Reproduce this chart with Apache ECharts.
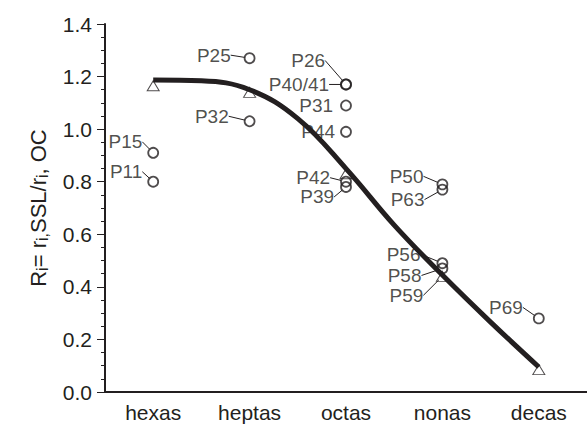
<!DOCTYPE html>
<html>
<head>
<meta charset="utf-8">
<script src="https://cdn.jsdelivr.net/npm/echarts@6/dist/echarts.min.js"></script>
<style>
  html, body { margin: 0; padding: 0; background: #fff; }
  #chart { width: 587px; height: 436px; }
</style>
</head>
<body>
<div id="chart"></div>
<script>
var categories = ['hexas', 'heptas', 'octas', 'nonas', 'decas'];

// open triangles, one per size class
var triangleValues = [1.165, 1.14, 0.83, 0.44, 0.085];

// fitted curve (x in category units, 0.5 = hexas)
var curvePos = [0.5, 1, 1.5, 2, 2.5, 3, 3.5, 4, 4.5];
var curveValues = [1.187, 1.184, 1.15, 1.04, 0.85, 0.635, 0.445, 0.266, 0.095];

// labelled open circles
var pointNames = ['P15', 'P11', 'P25', 'P32', 'P26', 'P40/41', 'P31', 'P44', 'P42', 'P39', 'P50', 'P63', 'P56', 'P58', 'P59', 'P69'];
var pointCats = ['hexas', 'hexas', 'heptas', 'heptas', 'octas', 'octas', 'octas', 'octas', 'octas', 'octas', 'nonas', 'nonas', 'nonas', 'nonas', 'nonas', 'decas'];
var pointValues = [0.91, 0.80, 1.27, 1.03, 1.17, 1.17, 1.09, 0.99, 0.80, 0.78, 0.79, 0.77, 0.49, 0.47, 0.44, 0.28];

var hiddenPoints = ['P59'];
var noLeader = ['P31', 'P44'];

// label placement (px): right edge and vertical centre of each label relative to its circle
var labelRx = [-10, -10, -18, -20, -20, -16, -12, -10, -15, -11, -18, -17, -21, -20, -19, -15];
var labelRy = [-11, -10, -3, -5, -24, 0, 0, 0, -4, 10, -8, 10, -9, 7, 19, -11];

(function() {
  var ink = '#231f20';
  var font = '"Liberation Sans", Arial, sans-serif';
  var circleSize = 10;

  var circleData = pointNames.map(function(n, i) {
    var item = { name: n, value: [pointCats[i], pointValues[i]] };
    if (hiddenPoints.indexOf(n) >= 0) item.itemStyle = { borderWidth: 0 };
    if (noLeader.indexOf(n) >= 0) item.labelLine = { show: false };
    return item;
  });

  var chart = echarts.init(document.getElementById('chart'), null, { renderer: 'svg' });
  chart.setOption({
    animation: false,
    textStyle: { fontFamily: font, color: ink },
    grid: { left: 105, right: -7, top: 24, bottom: 44 },
    xAxis: [{
      type: 'category',
      data: categories,
      axisLine: { lineStyle: { color: ink, width: 2 } },
      axisTick: { length: 10, lineStyle: { color: ink, width: 1 } },
      axisLabel: { color: ink, fontSize: 21, margin: 10, fontFamily: font },
      splitLine: { show: false }
    }, {
      type: 'value',
      min: 0,
      max: 5,
      show: false
    }],
    yAxis: {
      type: 'value',
      min: 0,
      max: 1.4,
      interval: 0.2,
      name: 'R{sub|i}= r{sub|i,}SSL/r{sub|i}, OC',
      nameLocation: 'middle',
      nameGap: 55,
      nameTextStyle: {
        fontSize: 22, color: ink, fontFamily: font,
        rich: { sub: { fontSize: 16, verticalAlign: 'bottom', color: ink, fontFamily: font, padding: [8, 0, 0, 0] } }
      },
      axisLine: { show: true, lineStyle: { color: ink, width: 2 } },
      axisTick: { show: true, length: 8, lineStyle: { color: ink, width: 1 } },
      minorTick: { show: true, splitNumber: 4, length: 4, lineStyle: { color: ink, width: 1 } },
      axisLabel: {
        color: ink, fontSize: 21, margin: 13, fontFamily: font,
        formatter: function(v) { return v.toFixed(1); }
      },
      splitLine: { show: false }
    },
    series: [{
      type: 'scatter',
      z: 2,
      symbol: 'triangle',
      symbolSize: [12, 10],
      itemStyle: { color: '#fff', borderColor: ink, borderWidth: 1 },
      data: categories.map(function(c, i) { return [c, triangleValues[i]]; })
    }, {
      type: 'line',
      z: 3,
      xAxisIndex: 1,
      smooth: 0.4,
      showSymbol: false,
      lineStyle: { color: ink, width: 5 },
      data: curvePos.map(function(x, i) { return [x, curveValues[i]]; })
    }, {
      type: 'scatter',
      z: 4,
      symbol: 'circle',
      symbolSize: circleSize,
      itemStyle: { color: 'rgba(0,0,0,0)', borderColor: ink, borderWidth: 1.8 },
      label: {
        show: true,
        position: 'left',
        distance: 0,
        color: ink,
        fontSize: 19,
        lineHeight: 17,
        fontFamily: font,
        formatter: '{b}'
      },
      labelLine: { show: true, lineStyle: { color: ink, width: 1 } },
      labelLayout: function(p) {
        var i = p.dataIndex;
        return { dx: labelRx[i] + circleSize / 2, dy: labelRy[i] };
      },
      data: circleData
    }]
  });
  window.addEventListener('resize', function() { chart.resize(); });
})();
</script>
</body>
</html>
